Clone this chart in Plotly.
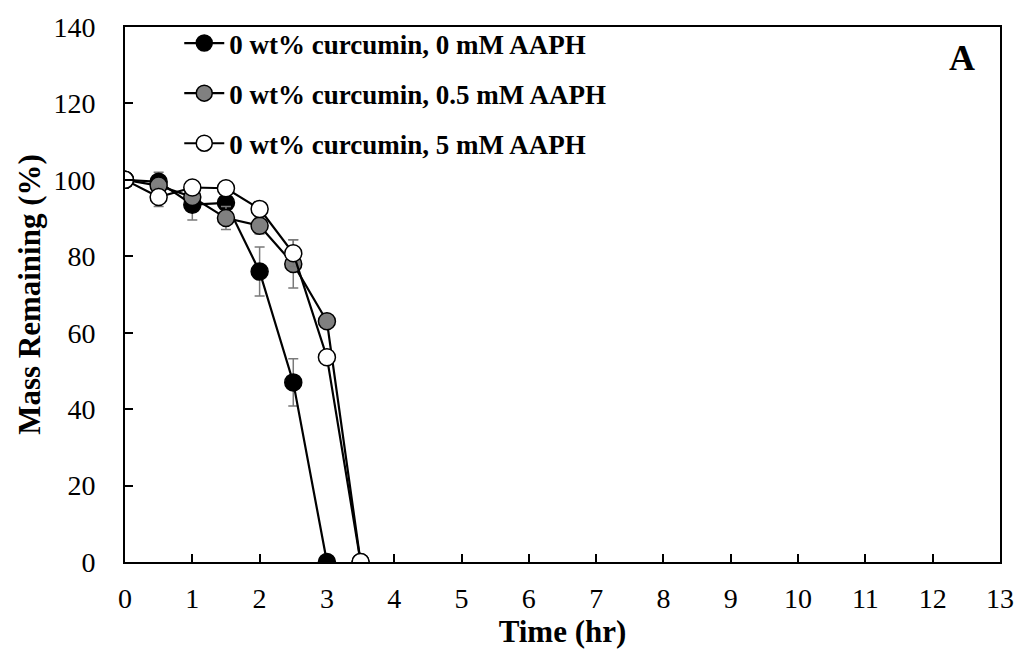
import plotly.graph_objects as go

time = [0, 0.5, 1, 1.5, 2, 2.5, 3, 3.5]

black_y = [100, 99.5, 93.5, 94, 76, 47, 0]
black_err = [0, 2.5, 4, 0, 6.4, 6.2, 0]

gray_y = [100, 98.5, 95.5, 90, 88, 78, 63, 0]
gray_err = [0, 1.5, 1.5, 3, 2.2, 6.3, 0, 0]

white_y = [100, 95.5, 98, 97.8, 92.4, 80.8, 53.6, 0]
white_err = [0, 2.5, 1, 0.5, 0.5, 3.5, 0, 0]

names = ["0 wt% curcumin, 0 mM AAPH",
         "0 wt% curcumin, 0.5 mM AAPH",
         "0 wt% curcumin, 5 mM AAPH"]
fills = ["#000000", "#808080", "#ffffff"]

x_ticks = list(range(0, 14))
y_ticks = list(range(0, 141, 20))

font_family = "Liberation Serif, Times New Roman, serif"

fig = go.Figure()
series = [(time[:len(black_y)], black_y, black_err),
          (time, gray_y, gray_err),
          (time, white_y, white_err)]
for i, (xs, ys, errs) in enumerate(series):
    fig.add_trace(go.Scatter(
        x=xs, y=ys, name=names[i], mode="lines+markers",
        legendgroup=f"g{i}",
        line=dict(color="black", width=2.2),
        marker=dict(size=17, color=fills[i], line=dict(color="black", width=1.5)),
        error_y=dict(type="data", array=errs, visible=True, color="#7a7a7a",
                     thickness=1.5, width=5),
    ))

fig.update_layout(
    width=1026, height=655,
    margin=dict(l=125, r=21, t=20, b=93),
    paper_bgcolor="white", plot_bgcolor="white",
    font=dict(family=font_family, color="black", size=28),
    showlegend=True,
    legend=dict(x=0.062, y=1.015, xanchor="left", yanchor="top",
                bgcolor="rgba(0,0,0,0)", tracegroupgap=12, itemwidth=40,
                font=dict(family=font_family, size=27, color="black", weight="bold")),
    xaxis=dict(range=[0, 13], tickvals=x_ticks, ticks="inside", ticklen=8,
               tickwidth=1.5, tickcolor="black", showline=True, linecolor="black",
               linewidth=2, mirror=True, showgrid=False, zeroline=False,
               tickfont=dict(size=28), ticklabelstandoff=10,
               title=dict(text="<b>Time (hr)</b>", font=dict(size=31), standoff=0)),
    yaxis=dict(range=[0, 140], tickvals=y_ticks, ticks="inside", ticklen=8,
               tickwidth=1.5, tickcolor="black", showline=True, linecolor="black",
               linewidth=2, mirror=True, showgrid=False, zeroline=False,
               tickfont=dict(size=28), ticklabelstandoff=22,
               title=dict(text="<b>Mass Remaining (%)</b>", font=dict(size=31), standoff=4)),
    annotations=[dict(text="<b>A</b>", x=0.957, y=0.942, xref="paper", yref="paper",
                      xanchor="center", yanchor="middle",
                      showarrow=False, font=dict(size=36, family=font_family))],
)

fig.write_html("out.html")
